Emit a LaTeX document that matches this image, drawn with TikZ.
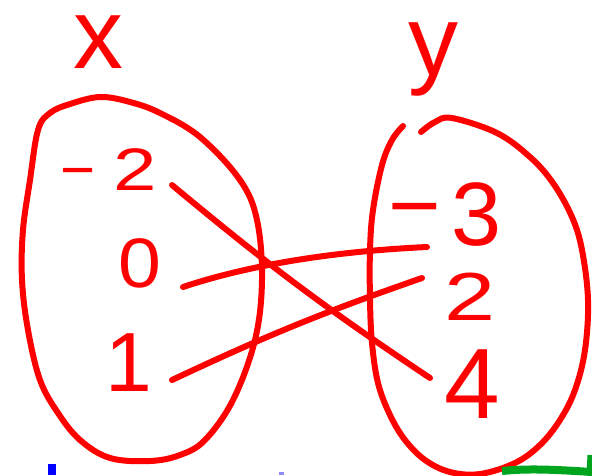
\documentclass[tikz,border=0pt]{standalone}
\usepackage{fontspec}
\setmainfont{Liberation Sans}
\definecolor{hred}{RGB}{255,0,0}
\definecolor{hgreen}{RGB}{0,165,30}
\definecolor{hblue}{RGB}{0,0,255}
\newcommand{\fs}[1]{\fontsize{#1}{#1}\selectfont}
\begin{document}
\begin{tikzpicture}[x=1pt,y=-1pt,
  lbl/.style={text=hred, inner sep=0pt},
  stroke/.style={draw=hred, line width=6pt, line cap=round, line join=round}]
\useasboundingbox (0,0) rectangle (592,475);
% set names
\node[lbl, font=\fs{74}] (X) at (98,42) {\scalebox{1.35}{x}};
\node[lbl, font=\fs{74}] (Y) at (433,59) {\scalebox{1.35}{y}};
% left oval
\draw[stroke] plot[smooth cycle, tension=0.6] coordinates {
  (100,97) (130,102) (160,113) (200,137) (240,180) (257,220) (262,280)
  (255,340) (233,400) (205,440) (180,455) (150,461) (110,458) (80,440)
  (58,413) (40,380) (28,330) (22,280) (23,230) (30,180) (38,130) (50,113) (70,104)};
% right oval (gap at top)
\draw[stroke] plot[smooth, tension=0.6] coordinates {
  (421,132) (435,122) (452,118) (497,133) (530,157) (553,183) (572,217)
  (582,250) (588,300) (585,350) (575,390) (560,420) (540,445) (515,463)
  (480,474) (450,472) (425,460) (405,440) (390,415) (378,383) (372,343)
  (370,300) (370,250) (373,210) (382,165) (392,140) (403,126)};
% domain labels
\node[lbl, font=\fs{60}, anchor=base west] (a) at (60,190) {−\hspace{18pt}\scalebox{1.3}[1]{2}};
\node[lbl, font=\fs{70}] (b) at (140,263) {\scalebox{1.1}[1]{0}};
\node[lbl, font=\fs{84}] (c) at (129,363) {1};
% range labels
\node[lbl, font=\fs{90}, anchor=base west] (p) at (388,245) {\raisebox{9pt}{−}\hspace{11pt}3};
\node[lbl, font=\fs{68}] (q) at (470,297) {\scalebox{1.35}[1]{2}};
\node[lbl, font=\fs{100}] (r) at (472,384) {4};
% connector ends
\coordinate (a1) at (172,185);
\coordinate (r1) at (430,378);
\coordinate (b1) at (183,287);
\coordinate (p1) at (427,247);
\coordinate (c1) at (172,380);
\coordinate (q1) at (422,278);
\draw[stroke] (a1) to[bend right=3] (r1);
\draw[stroke] (b1) .. controls (240,268) and (320,252) .. (p1);
\draw[stroke] (c1) to[bend left=3] (q1);
% stray marks at the bottom
\draw[draw=hgreen, line width=8pt] (502,471) .. controls (530,468) and (560,470) .. (592,472);
\draw[draw=hgreen, line width=5pt] (589,475) -- (590,455);
\fill[hblue] (48,464) rectangle (56,475);
\fill[hblue!45] (279,472) rectangle (284,475);
\end{tikzpicture}
\end{document}
